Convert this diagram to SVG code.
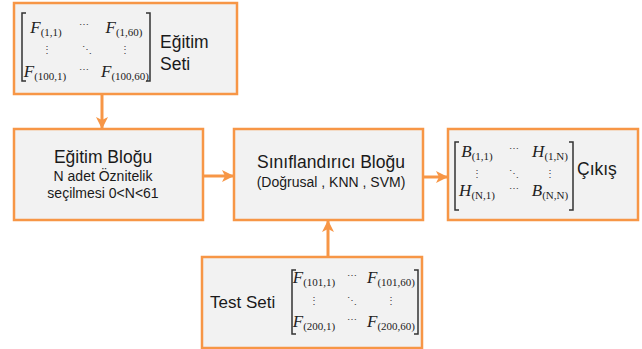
<svg xmlns="http://www.w3.org/2000/svg" width="642" height="349" viewBox="0 0 642 349">
<style>
.box{fill:#F2F2F2;stroke:#F79646;stroke-width:2.5}
.lbl{font-family:"Liberation Sans",Arial,sans-serif;fill:#1a1a1a}
.m{font-family:"Liberation Serif","DejaVu Serif",serif;fill:#222;text-anchor:middle}
.v{font-style:italic;font-size:17px}
.s{font-style:normal;font-size:11px}
.dots{font-family:"DejaVu Serif","Liberation Serif",serif;font-size:10px;fill:#444;text-anchor:middle}
.br{fill:none;stroke:#333;stroke-width:1.5}
.con{stroke:#F79646;stroke-width:3;fill:none}
</style>
<defs>
<marker id="ah" markerUnits="userSpaceOnUse" markerWidth="14" markerHeight="14" viewBox="0 0 14 14" refX="12" refY="7" orient="auto">
<path d="M1,1 L13,7 L1,13 L4,7 Z" fill="#F79646"/>
</marker>
</defs>
<rect width="642" height="349" fill="#ffffff"/>

<g id="connectors">
<line class="con" x1="102" y1="95" x2="102" y2="128" marker-end="url(#ah)"/>
<line class="con" x1="204" y1="176" x2="233" y2="176" marker-end="url(#ah)"/>
<line class="con" x1="424" y1="177" x2="447" y2="177" marker-end="url(#ah)"/>
<line class="con" x1="328" y1="256" x2="328" y2="221" marker-end="url(#ah)"/>
</g>

<g id="egitim-seti">
<rect class="box" x="14" y="3" width="223" height="91"/>
<path class="br" d="M26,13 H22 V81 H26 M146,13 H150 V81 H146"/>
<text class="m" x="46" y="33"><tspan class="v">F</tspan><tspan class="s" dy="3">(1,1)</tspan></text>
<text class="dots" x="84" y="28">⋯</text>
<text class="m" x="124" y="33"><tspan class="v">F</tspan><tspan class="s" dy="3">(1,60)</tspan></text>
<text class="dots" x="47" y="53">⋮</text>
<text class="dots" x="87" y="53">⋱</text>
<text class="dots" x="125" y="53">⋮</text>
<text class="m" x="45" y="77"><tspan class="v">F</tspan><tspan class="s" dy="3">(100,1)</tspan></text>
<text class="dots" x="84" y="73">⋯</text>
<text class="m" x="125" y="77"><tspan class="v">F</tspan><tspan class="s" dy="3">(100,60)</tspan></text>
<text class="lbl" x="160" y="48" font-size="17.5">Eğitim</text>
<text class="lbl" x="160" y="70" font-size="17.5">Seti</text>
</g>

<g id="egitim-blogu">
<rect class="box" x="14" y="129" width="189" height="91"/>
<text class="lbl" x="103" y="163" font-size="17.5" text-anchor="middle">Eğitim Bloğu</text>
<text class="lbl" x="103" y="181" font-size="14" text-anchor="middle">N adet Öznitelik</text>
<text class="lbl" x="103" y="198" font-size="14" text-anchor="middle">seçilmesi 0&lt;N&lt;61</text>
</g>

<g id="siniflandirici-blogu">
<rect class="box" x="234" y="129" width="189" height="91"/>
<text class="lbl" x="331" y="168" font-size="17.5" text-anchor="middle">Sınıflandırıcı Bloğu</text>
<text class="lbl" x="331" y="187" font-size="14" text-anchor="middle">(Doğrusal , KNN , SVM)</text>
</g>

<g id="cikis">
<rect class="box" x="448" y="129" width="190" height="91"/>
<path class="br" d="M459,142 H455 V210 H459 M569,142 H573 V210 H569"/>
<text class="m" x="477" y="157"><tspan class="v">B</tspan><tspan class="s" dy="3">(1,1)</tspan></text>
<text class="dots" x="514" y="152">⋯</text>
<text class="m" x="550" y="157"><tspan class="v">H</tspan><tspan class="s" dy="3">(1,N)</tspan></text>
<text class="dots" x="477" y="177">⋮</text>
<text class="dots" x="514" y="177">⋱</text>
<text class="dots" x="550" y="177">⋮</text>
<text class="m" x="477" y="196"><tspan class="v">H</tspan><tspan class="s" dy="3">(N,1)</tspan></text>
<text class="dots" x="514" y="192">⋯</text>
<text class="m" x="550" y="196"><tspan class="v">B</tspan><tspan class="s" dy="3">(N,N)</tspan></text>
<text class="lbl" x="577" y="175" font-size="17.5">Çıkış</text>
</g>

<g id="test-seti">
<rect class="box" x="202" y="257" width="220" height="91"/>
<text class="lbl" x="210" y="308" font-size="17">Test Seti</text>
<path class="br" d="M296,270 H292 V334 H296 M414,270 H418 V334 H414"/>
<text class="m" x="314" y="283"><tspan class="v">F</tspan><tspan class="s" dy="3">(101,1)</tspan></text>
<text class="dots" x="352" y="279">⋯</text>
<text class="m" x="391" y="283"><tspan class="v">F</tspan><tspan class="s" dy="3">(101,60)</tspan></text>
<text class="dots" x="314" y="304">⋮</text>
<text class="dots" x="352" y="304">⋱</text>
<text class="dots" x="391" y="304">⋮</text>
<text class="m" x="314" y="327"><tspan class="v">F</tspan><tspan class="s" dy="3">(200,1)</tspan></text>
<text class="dots" x="352" y="323">⋯</text>
<text class="m" x="391" y="327"><tspan class="v">F</tspan><tspan class="s" dy="3">(200,60)</tspan></text>
</g>
</svg>
